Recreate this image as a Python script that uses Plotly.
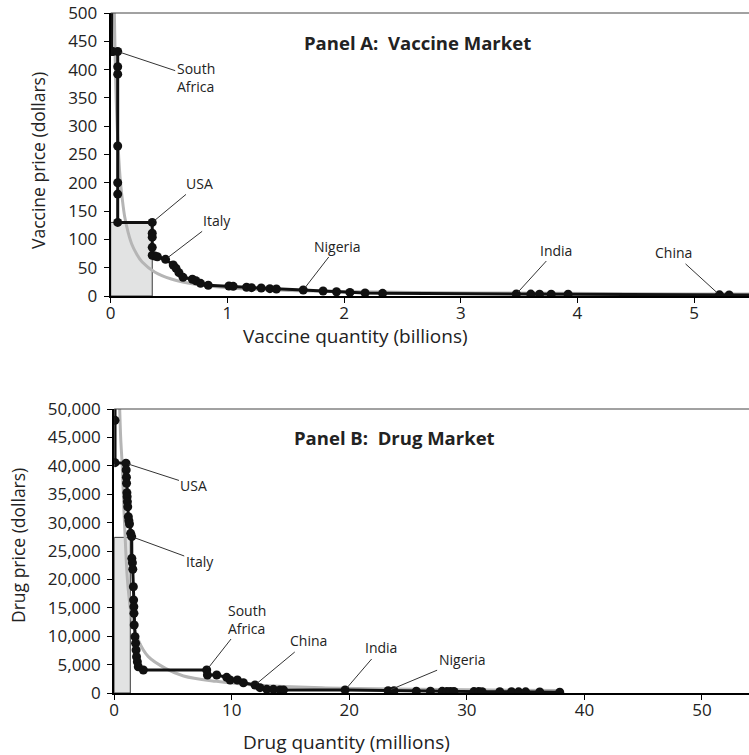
import plotly.graph_objects as go

# ---------------- Panel A: Vaccine market (quantity in billions, price in dollars)
vac_q = [0.008, 0.008, 0.017, 0.06, 0.06, 0.06, 0.06, 0.06, 0.06, 0.06, 0.356, 0.356, 0.356, 0.356,
         0.356, 0.379, 0.40, 0.47, 0.536, 0.56, 0.585, 0.62, 0.70, 0.73, 0.77, 0.836, 1.013, 1.05,
         1.164, 1.207, 1.29, 1.364, 1.42, 1.65, 1.82, 1.935, 2.05, 2.18, 2.33, 3.476, 3.60, 3.675,
         3.775, 3.92, 5.217, 5.30, 5.60]
vac_p = [560, 432, 432, 432, 405, 392, 265, 200, 180, 130, 130, 111, 104, 86,
         72, 70.7, 69.4, 64.8, 54.8, 48.9, 41.2, 33, 29.5, 27, 22.4, 18.9, 17.7, 17.1,
         15.4, 14.7, 14.1, 13, 12.4, 10.6, 8.8, 7.5, 6.4, 5.3, 4.7, 3.5, 3.4, 3.3,
         3.2, 3.1, 2.0, 1.8, 1.5]
vac_curve_q = [0.03, 0.05, 0.08, 0.10, 0.12, 0.15, 0.18, 0.22, 0.27, 0.38, 0.52, 0.66, 0.86,
               1.2, 1.6, 2.0, 2.6, 3.4, 4.2, 5.0, 5.5]
vac_curve_p = [520, 330, 210, 170, 140, 112, 92, 75, 60, 42, 30, 23, 17,
               12, 9.4, 7.8, 6.3, 5.1, 4.3, 3.7, 3.4]
vac_rect_q = 0.356
vac_rect_p = 130
vac_labels = ["South<br>Africa", "USA", "Italy", "Nigeria", "India", "China"]
vac_label_idx = [3, 10, 17, 33, 39, 44]

# ---------------- Panel B: Drug market (quantity in millions, price in dollars)
drug_q = [0.07, 0.07, 0.07, 1.0, 1.02, 1.04, 1.05, 1.08, 1.10, 1.12, 1.15, 1.20, 1.25, 1.30,
          1.40, 1.49, 1.50, 1.55, 1.58, 1.63, 1.65, 1.67, 1.68, 1.70, 1.77, 1.82, 1.86, 1.90,
          1.97, 2.05, 2.48, 7.87, 7.93, 8.72, 9.57, 9.86, 10.48, 10.99, 11.98, 12.4, 12.98,
          13.54, 14.1, 14.4, 19.64, 23.3, 23.8, 25.7, 26.9, 27.9, 28.3, 28.6, 28.9, 30.6, 31.0,
          31.3, 32.8, 33.8, 34.4, 35.0, 36.2, 37.9]
drug_p = [60000, 48000, 40550, 40440, 39260, 37980, 36920, 35270, 34560, 33680, 32800, 31040,
          30340, 29750, 28110, 27520, 23710, 22940, 21780, 18710, 16370, 15190, 14030, 11970,
          9910, 8750, 7570, 6390, 5510, 4630, 4050, 4050, 3170, 3170, 2760, 2290, 2290, 1810,
          1410, 940, 650, 650, 530, 530, 530, 400, 400, 320, 300, 290, 280, 280, 270, 250, 250,
          240, 230, 220, 210, 200, 180, 150]
drug_curve_q = [0.40, 0.55, 0.69, 0.83, 0.98, 1.15, 1.49, 2.05, 2.9, 4.4, 5.9, 8.7, 11.6, 14.4,
                18, 22, 26, 30, 34, 38]
drug_curve_p = [55000, 45000, 39800, 32200, 25200, 19300, 13400, 9300, 6400, 4300, 3000, 2050,
                1450, 1150, 900, 750, 640, 560, 500, 450]
drug_rect_q = 1.37
drug_rect_p = 27400
drug_labels = ["USA", "Italy", "South<br>Africa", "China", "India", "Nigeria"]
drug_label_idx = [3, 15, 31, 38, 44, 45]

# label offsets (pixels) from the country point to the label centre
vac_label_off = [(78, 26), (47, -39), (51, -39), (34, -44), (40, -44), (-46, -42)]
drug_label_off = [(68, 22), (68, 25), (40, -51), (53, -44), (36, -42), (74, -31)]

FONT = "Open Sans"
W, H = 749, 755
fig = go.Figure()


def add_panel(xa, ya, rq, rp, cq, cp, q, p):
    fig.add_trace(go.Scatter(
        x=[0, rq, rq, 0, 0], y=[0, 0, rp, rp, 0], xaxis=xa, yaxis=ya,
        mode="lines", fill="toself", fillcolor="#e2e3e3",
        line=dict(color="#3a3a3a", width=1), hoverinfo="skip", showlegend=False))
    fig.add_trace(go.Scatter(
        x=cq, y=cp, xaxis=xa, yaxis=ya, mode="lines",
        line=dict(color="#b5b5b5", width=3, shape="spline", smoothing=1.0),
        hoverinfo="skip", showlegend=False))
    fig.add_trace(go.Scatter(
        x=q, y=p, xaxis=xa, yaxis=ya, mode="lines+markers",
        line=dict(color="#111111", width=3),
        marker=dict(color="#111111", size=9),
        showlegend=False))


add_panel("x", "y", vac_rect_q, vac_rect_p, vac_curve_q, vac_curve_p, vac_q, vac_p)
add_panel("x2", "y2", drug_rect_q, drug_rect_p, drug_curve_q, drug_curve_p, drug_q, drug_p)

annotations = []
for lab, i, (ax, ay) in zip(vac_labels, vac_label_idx, vac_label_off):
    annotations.append(dict(x=vac_q[i], y=vac_p[i], xref="x", yref="y", text=lab,
                            showarrow=True, arrowhead=0, arrowwidth=1, arrowcolor="#333",
                            ax=ax, ay=ay, standoff=3, align="left",
                            font=dict(family=FONT, size=14, color="#222")))
for lab, i, (ax, ay) in zip(drug_labels, drug_label_idx, drug_label_off):
    annotations.append(dict(x=drug_q[i], y=drug_p[i], xref="x2", yref="y2", text=lab,
                            showarrow=True, arrowhead=0, arrowwidth=1, arrowcolor="#333",
                            ax=ax, ay=ay, standoff=3, align="left",
                            font=dict(family=FONT, size=14, color="#222")))


def paper(px, py):
    return px / W, 1 - py / H


texts = [
    ("Vaccine price (dollars)", 38, 161, -90, 17.5, False),
    ("Vaccine quantity (billions)", 355, 336, 0, 19, False),
    ("Drug price (dollars)", 18, 546, -90, 17.5, False),
    ("Drug quantity (millions)", 346, 742, 0, 19, False),
    ("Panel A:\u00a0 Vaccine Market", 417, 43, 0, 18.5, True),
    ("Panel B:\u00a0 Drug Market", 394, 437, 0, 18.5, True),
]
for t, px, py, ang, sz, bold in texts:
    xx, yy = paper(px, py)
    annotations.append(dict(x=xx, y=yy, xref="paper", yref="paper", showarrow=False,
                            text=f"<b>{t}</b>" if bold else t, textangle=ang,
                            xanchor="center", yanchor="middle",
                            font=dict(family=FONT, size=sz, color="#222")))

axis_common = dict(showline=True, linecolor="black", linewidth=2, ticks="outside",
                   ticklen=5, tickcolor="black", tickwidth=1, showgrid=False,
                   zeroline=False, tickfont=dict(family=FONT, size=17, color="#222"),
                   automargin=False, fixedrange=True)

fig.update_layout(
    width=W, height=H, margin=dict(l=0, r=0, t=0, b=0),
    paper_bgcolor="white", plot_bgcolor="white", showlegend=False,
    xaxis=dict(domain=[110.7 / W, 1], anchor="y", range=[0, 5.47], tickmode="linear",
               tick0=0, dtick=1, ticklabelstandoff=-4, **axis_common),
    yaxis=dict(domain=[1 - 296 / H, 1 - 13 / H], anchor="x", range=[0, 500],
               tickmode="linear", tick0=0, dtick=50, ticklabelstandoff=3, **axis_common),
    xaxis2=dict(domain=[114.2 / W, 1], anchor="y2", range=[0, 54], tickmode="linear",
                tick0=0, dtick=10, ticklabelstandoff=-4, **axis_common),
    yaxis2=dict(domain=[1 - 693 / H, 1 - 409 / H], anchor="x2", range=[0, 50000],
                tickmode="linear", tick0=0, dtick=5000, tickformat=",",
                ticklabelstandoff=3, **axis_common),
    annotations=annotations,
    shapes=[
        dict(type="line", xref="x domain", yref="y domain", x0=0, x1=1, y0=1, y1=1,
             line=dict(color="#444", width=1)),
        dict(type="line", xref="x2 domain", yref="y2 domain", x0=0, x1=1, y0=1, y1=1,
             line=dict(color="#444", width=1)),
    ],
)

fig.write_html("out.html", config={"displayModeBar": False},
               post_script="document.body.style.margin='0px';")
